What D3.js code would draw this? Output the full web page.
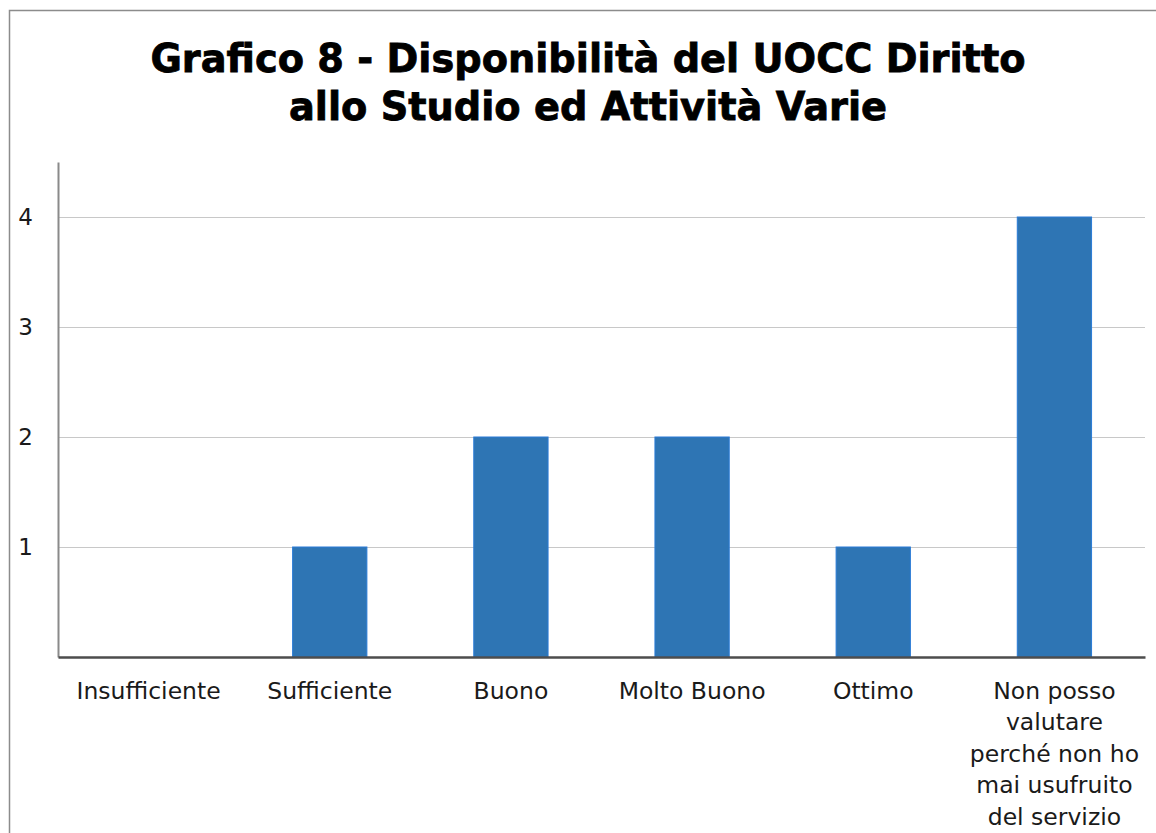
<!DOCTYPE html>
<html>
<head>
<meta charset="utf-8">
<script src="https://cdn.jsdelivr.net/npm/d3@7"></script>
<style>
  body { margin: 0; background: #fff; }
  svg { display: block; }
  .axis text { font-family: "DejaVu Sans", Verdana, sans-serif; fill: #1a1a1a; }
</style>
</head>
<body>
<svg id="chart" width="1156" height="833"></svg>
<script>
// chart data
var titleLines = ['Grafico 8 - Disponibilità del UOCC Diritto', 'allo Studio ed Attività Varie'];
var categories = ['Insufficiente', 'Sufficiente', 'Buono', 'Molto Buono', 'Ottimo',
  'Non posso valutare perché non ho mai usufruito del servizio'];
var values = [0, 1, 2, 2, 1, 4];
var yTicks = [1, 2, 3, 4];

var W = 1156, H = 833;
var margin = {top: 162, right: 11, bottom: 176, left: 58};
var width = W - margin.left - margin.right,
    height = H - margin.top - margin.bottom;

var svg = d3.select('#chart');

// outer chart frame (extends past the window on the right and bottom)
svg.append('rect')
  .attr('x', 9.5).attr('y', 10.5)
  .attr('width', 1200).attr('height', 900)
  .attr('fill', 'none')
  .attr('stroke', '#8c8c8c')
  .attr('stroke-width', 1.5);

// title
svg.append('text')
  .attr('text-anchor', 'middle')
  .attr('font-family', '"DejaVu Sans", Verdana, sans-serif')
  .attr('font-weight', 'bold')
  .attr('font-size', 38.3)
  .attr('fill', '#000')
  .attr('stroke', '#000')
  .attr('stroke-width', 0.8)
  .selectAll('tspan')
  .data(titleLines)
  .join('tspan')
  .attr('x', 588)
  .attr('y', function(d, i) { return 72 + i * 48; })
  .text(function(d) { return d; });

var g = svg.append('g')
  .attr('transform', 'translate(' + margin.left + ',' + margin.top + ')');

var x = d3.scaleBand()
  .domain(categories)
  .range([0, width])
  .paddingInner(0.59)
  .paddingOuter(0.295);

var y = d3.scaleLinear()
  .domain([0, 4.5])
  .range([height, 0]);

// gridlines
g.append('g')
  .attr('class', 'grid')
  .call(d3.axisLeft(y).tickValues(yTicks).tickSize(-width).tickFormat(''))
  .call(function(sel) {
    sel.select('.domain').remove();
    sel.selectAll('line').attr('stroke', '#c8c8c8').attr('stroke-width', 1.2);
  });

// bars
g.selectAll('rect.bar')
  .data(values)
  .join('rect')
  .attr('class', 'bar')
  .attr('x', function(d, i) { return x(categories[i]); })
  .attr('width', x.bandwidth())
  .attr('y', function(d) { return y(d); })
  .attr('height', function(d) { return height - y(d); })
  .attr('fill', '#2e75b4')
  .attr('stroke', '#2a7bd6')
  .attr('stroke-width', 1);

// y axis
g.append('g')
  .attr('class', 'axis')
  .call(d3.axisLeft(y).tickValues(yTicks).tickSize(0).tickPadding(25).tickFormat(d3.format('d')))
  .call(function(sel) {
    sel.select('.domain').attr('stroke', '#8a8a8a').attr('stroke-width', 2);
    sel.selectAll('text').attr('font-size', 23);
  });

// x axis
var xAxis = g.append('g')
  .attr('class', 'axis')
  .attr('transform', 'translate(0,' + height + ')')
  .call(d3.axisBottom(x).tickSize(0).tickPadding(25))
  .call(function(sel) {
    sel.select('.domain').attr('stroke', '#4d4d4d').attr('stroke-width', 2.5);
    sel.selectAll('text').attr('font-size', 23.5);
  });

// wrap long category labels
xAxis.selectAll('.tick text').each(function() {
  var text = d3.select(this),
      words = text.text().split(/\s+/),
      y0 = +text.attr('y'),
      dy = text.attr('dy'),
      lineH = 31.6,
      maxW = 176,
      line = [],
      lineNo = 0,
      tspan = text.text(null).append('tspan').attr('x', 0).attr('y', y0).attr('dy', dy);
  words.forEach(function(w) {
    line.push(w);
    tspan.text(line.join(' '));
    if (tspan.node().getComputedTextLength() > maxW && line.length > 1) {
      line.pop();
      tspan.text(line.join(' '));
      line = [w];
      lineNo++;
      tspan = text.append('tspan').attr('x', 0)
        .attr('y', y0 + lineNo * lineH).attr('dy', dy)
        .text(w);
    }
  });
});
</script>
</body>
</html>
